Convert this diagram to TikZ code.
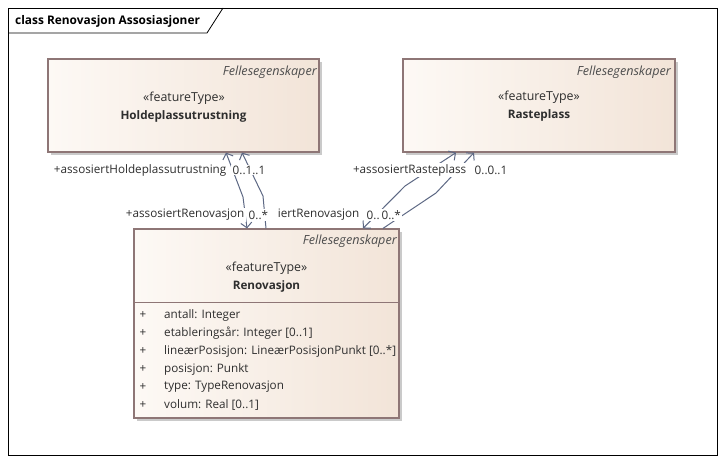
\documentclass[tikz,border=0pt]{standalone}
\usepackage{fontspec}
\setmainfont{Open Sans}
\usetikzlibrary{arrows.meta,calc,shadows}
\definecolor{boxleft}{HTML}{FDF9F5}
\definecolor{boxright}{HTML}{F2E4D8}
\definecolor{boxborder}{HTML}{8E7676}
\definecolor{boxshadow}{HTML}{CACACA}
\definecolor{linkcol}{HTML}{5D6884}
\definecolor{txtcol}{HTML}{2E2E2E}
\tikzstyle{featurebox} = [rectangle, draw=boxborder, line width=1.2pt, left color=boxleft, right color=boxright, inner sep=0pt, general shadow={fill=boxshadow, draw=none, shadow xshift=3pt, shadow yshift=-3pt}]
\tikzstyle{uml} = [font=\fontsize{11.7}{13}\selectfont, text=txtcol, inner sep=0pt]
\tikzstyle{pkgtext} = [uml, font=\fontsize{12.6}{14}\selectfont\itshape, text=txtcol!85, anchor=east]
\tikzstyle{stereo} = [uml, font=\fontsize{12.4}{14}\selectfont]
\tikzstyle{classname} = [uml, font=\fontsize{11.7}{13}\selectfont\bfseries]
\tikzstyle{rolelabel} = [uml, fill=white, inner xsep=1.5pt, inner ysep=1pt]
\tikzstyle{assoc} = [linkcol, line width=1pt]
\tikzset{navend/.tip={Straight Barb[length=5pt,width=11pt]}}

\begin{document}
\begin{tikzpicture}[x=1pt, y=-1pt]
                    \useasboundingbox (0,0) rectangle (726,463);
                    \fill[white] (0,0) rectangle (726,463);
                    \draw[black, line width=0.8pt] (8,8) rectangle (717,455);
                    \draw[black, line width=0.8pt] (8,33) -- (207,33) -- (223,8);
                    \node[uml, text=black, font=\fontsize{11.9}{13}\selectfont\bfseries, anchor=west] (title) at (15,21) {class Renovasjon Assosiasjoner};

                    \node[featurebox, minimum width=271pt, minimum height=93pt] (hold) at (183.5,105.5) {};
                    \node[featurebox, minimum width=272pt, minimum height=93pt] (rast) at (539,105.5) {};
                    \node[featurebox, minimum width=265pt, minimum height=189pt] (renov) at (266.5,323.5) {};
                    \draw[boxborder, line width=1pt] ([yshift=-74pt]renov.north west) -- ([yshift=-74pt]renov.north east);

                    \node[pkgtext] (holdpkg) at (317,72) {Fellesegenskaper};
                    \node[stereo] (holdstereo) at (184,98) {«featureType»};
                    \node[classname] (holdname) at (183.5,116) {Holdeplassutrustning};
                    \node[pkgtext] (rastpkg) at (671,72) {Fellesegenskaper};
                    \node[stereo] (raststereo) at (539,97) {«featureType»};
                    \node[classname] (rastname) at (539,115) {Rasteplass};
                    \node[pkgtext] (renovpkg) at (397,241) {Fellesegenskaper};
                    \node[stereo] (renovstereo) at (266.5,268) {«featureType»};
                    \node[classname] (renovname) at (266.5,286) {Renovasjon};
                    \foreach \txt [count=\k from 0] in {antall: Integer, etableringsår: Integer [0..1], lineærPosisjon: LineærPosisjonPunkt [0..*], posisjon: Punkt, type: TypeRenovasjon, volum: Real [0..1]}{
                        \node[uml] (plus\k) at (143,{315+18*\k}) {+};
                        \node[uml, anchor=west] (attr\k) at (164,{315+18*\k}) {\txt};
                    }

                    \coordinate (hb1) at (243,197);
                    \coordinate (hb2) at (263,196);
                    \coordinate (rb1) at (405,186);
                    \coordinate (rb2) at (436,193);
                    \draw[assoc, navend-navend] ([xshift=-19.5pt]renov.north) -- (hb1) -- ([xshift=42.5pt]hold.south);
                    \draw[assoc, -navend] ([xshift=-0.5pt]renov.north) -- (hb2) -- ([xshift=58.5pt]hold.south);
                    \draw[assoc, navend-navend] ([xshift=96.5pt]renov.north) -- (rb1) -- ([xshift=-83pt]rast.south);
                    \draw[assoc, -navend] ([xshift=116.5pt]renov.north) -- (rb2) -- ([xshift=-65pt]rast.south);

                    \node[rolelabel, anchor=east] (holdrole) at (228,170) {+assosiertHoldeplassutrustning};
                    \node[rolelabel, anchor=west] (holdmult) at (231,170) {0..1..1};
                    \node[rolelabel, anchor=east] (rastrole) at (468,170) {+assosiertRasteplass};
                    \node[rolelabel, anchor=west] (rastmult) at (473,170) {0..0..1};
                    \node[rolelabel, anchor=east] (renovrole1) at (246,215) {+assosiertRenovasjon};
                    \node[rolelabel, anchor=west] (renovmult1) at (247,215) {0..*};
                    \node[rolelabel, anchor=east] (renovrole2) at (361,215) {iertRenovasjon};
                    \node[rolelabel, anchor=west] (renovmult2) at (365,215) {0..\,0..*};
                \end{tikzpicture}
\end{document}
